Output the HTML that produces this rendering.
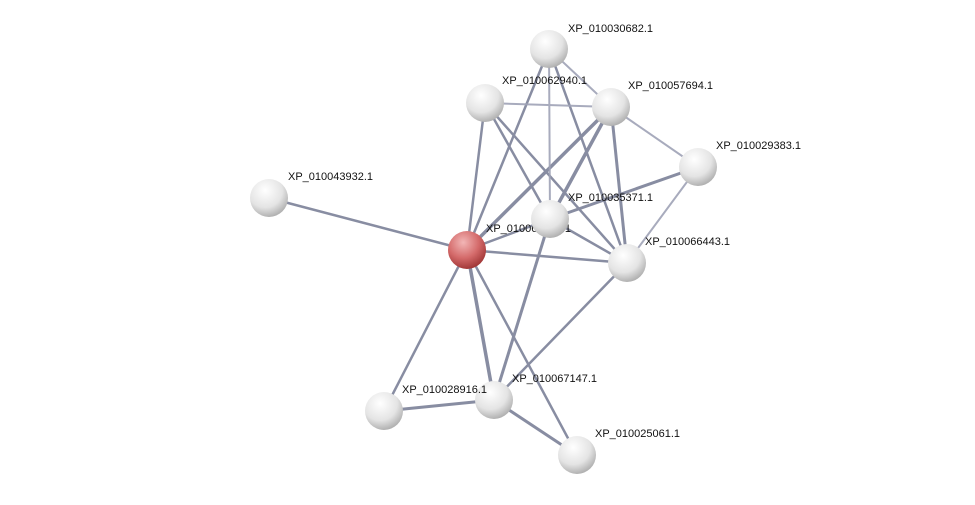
<!DOCTYPE html>
<html><head><meta charset="utf-8"><style>
html,body{margin:0;padding:0;background:#fff;}
svg text{font-family:"Liberation Sans",sans-serif;font-size:11px;fill:#111;}
</style></head><body>
<svg width="975" height="500" viewBox="0 0 975 500" xmlns="http://www.w3.org/2000/svg">
<defs>
<radialGradient id="g" cx="0.4" cy="0.3" r="0.75">
<stop offset="0" stop-color="#ffffff"/><stop offset="0.6" stop-color="#e4e4e4"/><stop offset="1" stop-color="#a8a8a8"/>
</radialGradient>
<radialGradient id="r" cx="0.4" cy="0.3" r="0.75">
<stop offset="0" stop-color="#f2b6b6"/><stop offset="0.55" stop-color="#d46a6a"/><stop offset="1" stop-color="#9a3030"/>
</radialGradient>
</defs>
<g stroke-linecap="round">
<g stroke="#7c8198" stroke-width="2.5" opacity="0.9">
<line x1="467" y1="250" x2="269" y2="198"/>
<line x1="467" y1="250" x2="485" y2="103"/>
<line x1="467" y1="250" x2="549" y2="49"/>
<line x1="467" y1="250" x2="611" y2="107" stroke-width="3.5"/>
<line x1="467" y1="250" x2="627" y2="263"/>
<line x1="467" y1="250" x2="384" y2="411"/>
<line x1="467" y1="250" x2="494" y2="400" stroke-width="3.5"/>
<line x1="467" y1="250" x2="577" y2="455"/>
<line x1="467" y1="250" x2="550" y2="219"/>
<line x1="485" y1="103" x2="550" y2="219"/>
<line x1="485" y1="103" x2="627" y2="263"/>
<line x1="549" y1="49" x2="627" y2="263"/>
<line x1="611" y1="107" x2="550" y2="219" stroke-width="3.5"/>
<line x1="611" y1="107" x2="627" y2="263" stroke-width="3"/>
<line x1="550" y1="219" x2="627" y2="263"/>
<line x1="550" y1="219" x2="494" y2="400" stroke-width="3"/>
<line x1="627" y1="263" x2="494" y2="400"/>
<line x1="384" y1="411" x2="494" y2="400" stroke-width="3"/>
<line x1="494" y1="400" x2="577" y2="455" stroke-width="3"/>
<line x1="698" y1="167" x2="550" y2="219" stroke-width="3"/>
</g>
<g stroke="#9fa3b6" stroke-width="2" opacity="0.9">
<line x1="485" y1="103" x2="611" y2="107"/>
<line x1="549" y1="49" x2="611" y2="107"/>
<line x1="549" y1="49" x2="550" y2="219"/>
<line x1="611" y1="107" x2="698" y2="167"/>
<line x1="698" y1="167" x2="627" y2="263"/>
</g>
</g>
<g>
<text x="486" y="232">XP_010064581.1</text>
<circle cx="549" cy="49" r="19" fill="url(#g)"/>
<circle cx="485" cy="103" r="19" fill="url(#g)"/>
<circle cx="611" cy="107" r="19" fill="url(#g)"/>
<circle cx="698" cy="167" r="19" fill="url(#g)"/>
<circle cx="269" cy="198" r="19" fill="url(#g)"/>
<circle cx="467" cy="250" r="19" fill="url(#r)"/>
<circle cx="550" cy="219" r="19" fill="url(#g)"/>
<circle cx="627" cy="263" r="19" fill="url(#g)"/>
<circle cx="384" cy="411" r="19" fill="url(#g)"/>
<circle cx="494" cy="400" r="19" fill="url(#g)"/>
<circle cx="577" cy="455" r="19" fill="url(#g)"/>
</g>
<text x="568" y="32">XP_010030682.1</text>
<text x="502" y="84">XP_010062940.1</text>
<text x="628" y="89">XP_010057694.1</text>
<text x="716" y="149">XP_010029383.1</text>
<text x="288" y="180">XP_010043932.1</text>
<text x="568" y="201">XP_010035371.1</text>
<text x="645" y="245">XP_010066443.1</text>
<text x="402" y="393">XP_010028916.1</text>
<text x="512" y="382">XP_010067147.1</text>
<text x="595" y="437">XP_010025061.1</text>
</svg>
</body></html>
